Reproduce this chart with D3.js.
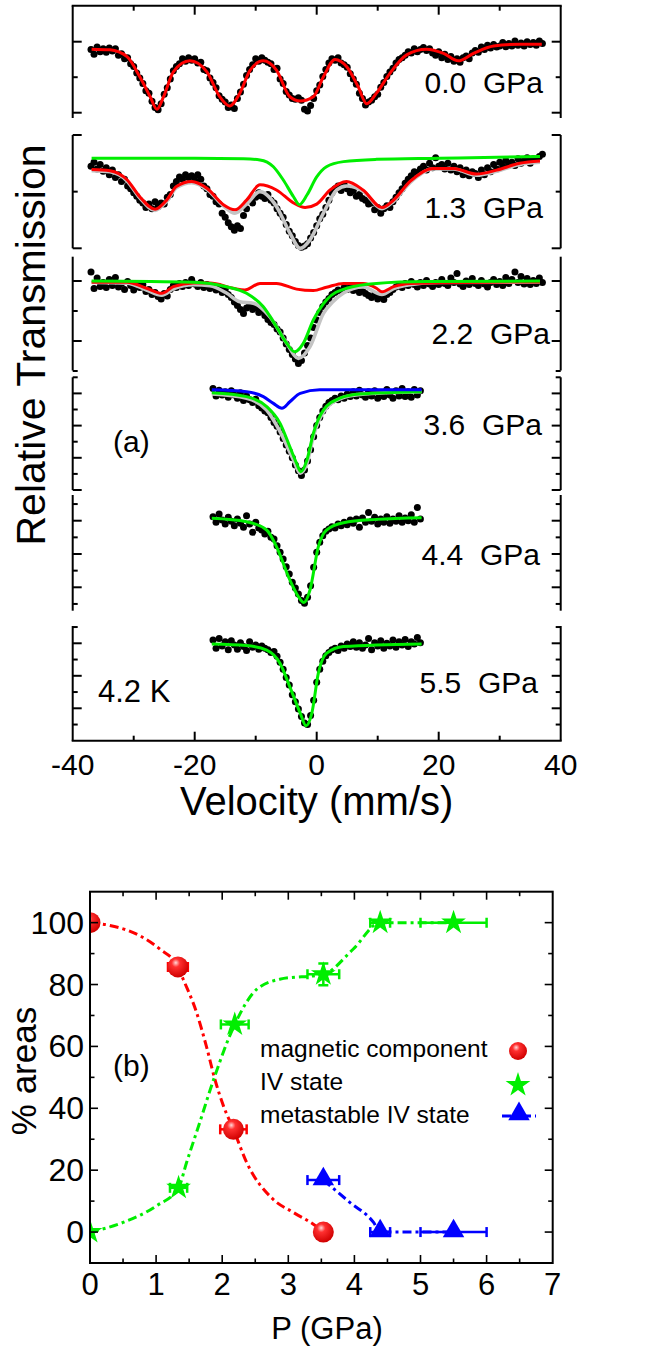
<!DOCTYPE html>
<html>
<head>
<meta charset="utf-8">
<script src="https://cdn.jsdelivr.net/npm/d3@7"></script>
<style>
  body { margin: 0; background: #fff; }
  svg { display: block; }
  text { font-family: "Liberation Sans", Arial, sans-serif; fill: #000; white-space: pre; }
</style>
</head>
<body>
<script>
// ---------- (a) Mossbauer spectra, relative transmission in % ----------
var velStep = 0.5;            // channel spacing (mm/s) of the plotted points
var wideStart = -37, narrowStart = -17;

var dots00 = [
  99.78, 99.65, 99.85, 99.72, 99.80, 99.70, 99.82, 99.74, 99.80, 99.62,
  99.66, 99.52, 99.55, 99.38, 99.30, 99.12, 98.98, 98.82, 98.62, 98.55,
  98.32, 98.15, 98.08, 98.25, 98.52, 98.70, 98.95, 99.18, 99.30, 99.38,
  99.52, 99.45, 99.55, 99.48, 99.52, 99.40, 99.42, 99.22, 99.18, 98.98,
  98.85, 98.70, 98.48, 98.38, 98.30, 98.15, 98.22, 98.12, 98.40, 98.58,
  98.80, 99.05, 99.22, 99.35, 99.52, 99.45, 99.55, 99.48, 99.42, 99.38,
  99.22, 99.25, 98.95, 98.82, 98.60, 98.50, 98.40, 98.38, 98.42, 98.35,
  98.10, 98.05, 98.20, 98.40, 98.62, 98.78, 99.02, 99.22, 99.40, 99.52,
  99.48, 99.55, 99.40, 99.35, 99.28, 99.10, 98.95, 98.80, 98.55, 98.40,
  98.22, 98.30, 98.35, 98.45, 98.52, 98.72, 98.85, 99.02, 99.15, 99.25,
  99.40, 99.50, 99.55, 99.62, 99.72, 99.68, 99.80, 99.72, 99.78, 99.84,
  99.75, 99.80, 99.68, 99.62, 99.72, 99.55, 99.65, 99.50, 99.58, 99.45,
  99.52, 99.42, 99.55, 99.60, 99.52, 99.68, 99.75, 99.70, 99.85, 99.78,
  99.90, 99.82, 99.92, 99.85, 99.88, 99.98, 99.86, 99.95, 99.88, 100.02,
  99.90, 99.96, 99.88, 100.00, 99.92, 99.98, 99.90, 100.02, 99.95
];
var dots13 = [
  99.45, 99.52, 99.40, 99.48, 99.36, 99.42, 99.30, 99.38, 99.25, 99.30,
  99.18, 99.22, 99.10, 99.05, 98.98, 98.92, 98.85, 98.80, 98.72, 98.78,
  98.70, 98.82, 98.74, 98.80, 98.78, 98.90, 98.95, 99.10, 99.18, 99.26,
  99.22, 99.30, 99.25, 99.28, 99.20, 99.30, 99.22, 99.10, 99.05, 98.95,
  98.92, 98.82, 98.78, 98.62, 98.55, 98.45, 98.38, 98.32, 98.40, 98.35,
  98.58, 98.70, 98.85, 98.80, 98.90, 98.98, 98.92, 98.88, 98.95, 98.85,
  98.80, 98.70, 98.62, 98.55, 98.42, 98.30, 98.22, 98.12, 98.05, 98.02,
  98.04, 98.08, 98.18, 98.28, 98.40, 98.52, 98.60, 98.72, 98.85, 98.98,
  99.05, 99.10, 99.02, 99.12, 99.05, 98.98, 99.02, 98.92, 98.95, 98.88,
  98.85, 98.78, 98.80, 98.68, 98.72, 98.62, 98.70, 98.75, 98.72, 98.82,
  98.90, 98.98, 99.05, 99.15, 99.22, 99.28, 99.35, 99.32, 99.40, 99.45,
  99.38, 99.50, 99.42, 99.60, 99.45, 99.48, 99.40, 99.50, 99.38, 99.45,
  99.35, 99.42, 99.30, 99.38, 99.28, 99.35, 99.32, 99.25, 99.38, 99.30,
  99.42, 99.35, 99.48, 99.40, 99.52, 99.45, 99.55, 99.48, 99.52, 99.46,
  99.58, 99.50, 99.55, 99.60, 99.50, 99.58, 99.55, 99.62, 99.66
];
var dots22 = [
  100.30, 99.75, 100.10, 99.82, 99.95, 99.78, 100.05, 99.85, 100.12, 99.80,
  99.92, 99.72, 99.98, 99.85, 99.70, 99.90, 99.78, 99.88, 99.65, 99.72,
  99.55, 99.62, 99.48, 99.40, 99.58, 99.50, 99.72, 99.85, 99.78, 99.92,
  99.82, 99.95, 99.85, 100.05, 99.90, 99.82, 99.95, 99.78, 99.88, 99.75,
  99.85, 99.70, 99.80, 99.62, 99.72, 99.55, 99.45, 99.30, 99.18, 99.05,
  98.92, 99.10, 99.20, 99.05, 99.12, 98.95, 99.02, 98.85, 98.72, 98.62,
  98.55, 98.40, 98.30, 98.10, 97.90, 97.72, 97.55, 97.40, 97.25, 97.35,
  97.60, 97.85, 98.10, 98.45, 98.70, 98.95, 99.15, 99.30, 99.42, 99.55,
  99.62, 99.70, 99.65, 99.78, 99.72, 99.80, 99.68, 99.75, 99.62, 99.70,
  99.58, 99.52, 99.45, 99.55, 99.40, 99.48, 99.38, 99.55, 99.62, 99.72,
  99.80, 99.88, 99.78, 99.92, 99.85, 99.98, 99.88, 99.80, 99.95, 99.85,
  100.02, 99.90, 99.82, 99.95, 99.88, 100.05, 99.92, 99.85, 100.10, 99.95,
  100.25, 99.90, 99.82, 100.00, 99.88, 100.08, 99.92, 99.85, 100.02, 99.90,
  99.80, 99.95, 100.05, 99.88, 99.98, 99.85, 100.12, 99.92, 100.05, 100.30,
  99.95, 100.15, 99.90, 100.08, 99.88, 100.02, 99.92, 100.10, 99.95
];
var dots36 = [
  100.15, 99.92, 100.10, 99.95, 100.05, 99.88, 100.08, 99.95, 99.85, 100.02,
  99.78, 99.92, 99.80, 99.72, 99.82, 99.62, 99.55, 99.45, 99.40, 99.25,
  99.10, 98.98, 98.80, 98.60, 98.40, 98.20, 98.00, 97.78, 97.60, 97.45,
  97.62, 97.90, 98.25, 98.65, 99.00, 99.25, 99.45, 99.60, 99.72, 99.78,
  99.85, 99.80, 99.92, 99.85, 99.98, 99.90, 100.05, 99.92, 100.10, 99.95,
  99.88, 100.05, 99.92, 100.08, 99.85, 100.02, 99.90, 100.12, 99.95, 99.85,
  100.08, 99.92, 100.15, 99.90, 100.05, 99.88, 100.12, 99.95, 100.08
];
var dots44 = [
  100.12, 99.95, 100.20, 100.02, 99.90, 100.10, 99.98, 99.85, 100.05, 99.92,
  99.80, 100.15, 99.90, 99.65, 99.95, 99.78, 99.72, 99.60, 99.68, 99.50,
  99.45, 99.25, 99.05, 98.85, 98.62, 98.40, 98.15, 97.98, 97.80, 97.60,
  97.52, 97.70, 98.05, 98.60, 99.05, 99.35, 99.55, 99.68, 99.75, 99.82,
  99.78, 99.90, 99.85, 99.95, 99.88, 100.02, 99.92, 100.05, 99.80, 100.08,
  99.95, 100.25, 99.98, 100.10, 99.90, 100.05, 99.95, 100.12, 99.92, 100.05,
  99.98, 100.15, 99.95, 100.08, 100.00, 100.18, 99.95, 100.40, 100.05
];
var dots55 = [
  100.10, 99.85, 100.15, 99.92, 100.05, 99.80, 100.08, 99.95, 99.82, 100.02,
  99.90, 99.78, 100.05, 99.88, 99.95, 99.82, 99.92, 99.85, 99.80, 99.72,
  99.75, 99.60, 99.42, 99.20, 98.95, 98.72, 98.42, 98.20, 97.98, 97.75,
  97.55, 97.50, 97.78, 98.25, 98.80, 99.20, 99.45, 99.62, 99.72, 99.80,
  99.85, 99.78, 99.92, 99.85, 99.98, 99.90, 100.05, 99.88, 100.02, 99.85,
  99.95, 100.15, 99.80, 100.02, 99.92, 100.08, 99.85, 100.00, 99.92, 100.10,
  99.88, 100.05, 99.95, 100.12, 99.90, 100.05, 99.98, 100.18, 100.02
];

// fitted components (velocity, transmission)
var fit00RedV = [-36.9,-33.9,-31.1,-29.0,-27.3,-26.2,-25.1,-23.5,-20.8,-18.0,-15.9,-14.3,-12.6,-10.9,-8.75,-6.6,-4.4,-2.7,-0.55,1.1,3.0,4.9,6.8,8.2,9.8,12.0,14.75,18.0,20.8,23.2,25.7,29.0,33.3,36.9];
var fit00RedT = [99.79,99.77,99.58,99.01,98.45,98.10,98.45,99.15,99.46,99.15,98.45,98.19,98.55,99.20,99.46,99.20,98.45,98.33,98.45,99.01,99.50,99.30,98.73,98.25,98.55,99.11,99.63,99.79,99.67,99.46,99.67,99.88,99.93,99.93];

var fit13GreenV = [-36.9,-20,-12,-9.3,-7.1,-5.5,-3.8,-2.85,-1.6,0,1.6,4.4,9.8,20,36.6];
var fit13GreenT = [99.59,99.59,99.58,99.56,99.44,99.21,98.91,98.77,98.94,99.26,99.44,99.53,99.57,99.59,99.62];
var fit13RedV = [-36.9,-33.9,-31.1,-29.0,-26.5,-24.6,-23.0,-20.5,-18.0,-15.3,-13.4,-11.5,-9.3,-6.6,-3.8,-1.9,0,2.2,4.9,7.6,10.7,12.6,15.3,19.1,22.4,26.2,29.5,33.3,36.6];
var fit13RedT = [99.39,99.37,99.21,98.91,98.69,98.85,99.09,99.18,99.06,98.77,98.68,98.85,99.12,99.03,98.80,98.72,98.78,99.03,99.18,99.03,98.72,98.85,99.18,99.41,99.41,99.31,99.38,99.50,99.54];
var fit13SumV = [-36.9,-33.9,-31.1,-29.0,-26.5,-24.6,-23.0,-20.5,-18.0,-15.3,-13.4,-11.5,-9.3,-6.6,-4.4,-2.7,-1.1,1.1,3.3,4.9,7.6,10.7,12.6,15.3,19.1,22.4,26.2,29.5,33.3,36.6];
var fit13SumT = [99.37,99.35,99.19,98.89,98.67,98.83,99.07,99.16,99.04,98.75,98.62,98.78,99.00,98.74,98.27,98.00,98.15,98.62,99.03,99.10,99.01,98.70,98.83,99.16,99.40,99.40,99.29,99.36,99.48,99.52];

var fit22GreenV = [-36.9,-20.2,-14.8,-11.5,-8.75,-6.6,-4.9,-3.6,-2.2,-0.55,1.6,4.9,9.8,18,36.6];
var fit22GreenT = [100,99.96,99.81,99.59,99.14,98.48,97.92,97.64,97.92,98.70,99.37,99.76,99.92,99.98,100];
var fit22RedV = [-36.9,-31.1,-27.9,-25.4,-23.5,-20.2,-17.5,-13.7,-11.8,-9.3,-6.6,-3.3,-0.55,1.6,4.4,7.6,9.8,10.7,12.6,15.3,36.6];
var fit22RedT = [99.96,99.96,99.76,99.59,99.81,99.93,99.93,99.76,99.70,99.92,99.92,99.73,99.68,99.79,99.92,99.92,99.76,99.64,99.81,99.92,99.97];
var fit22SumV = [-36.9,-31.1,-27.9,-25.4,-23.5,-20.2,-17.5,-14.8,-12.6,-10.4,-7.7,-4.9,-3.0,-1.1,1.1,2.6,4.4,7.6,10.7,12.6,15.3,20,36.6];
var fit22SumT = [99.95,99.93,99.70,99.53,99.74,99.88,99.84,99.60,99.31,99.26,98.81,97.92,97.42,97.81,98.92,99.30,99.60,99.80,99.55,99.75,99.88,99.95,99.97];

var fit36BlueV = [-17.2,-11.5,-8.75,-7.1,-5.7,-4.4,-2.7,0.5,17.2];
var fit36BlueT = [100.11,100.05,99.90,99.69,99.54,99.74,100.0,100.11,100.11];
var fit36GreenV = [-17.2,-11.5,-8.2,-6.0,-4.4,-3.3,-2.6,-1.6,-0.55,1.1,3.8,7.1,17.2];
var fit36GreenT = [100.02,99.90,99.59,99.07,98.34,97.83,97.57,97.93,98.76,99.48,99.85,99.98,100.05];
var fit36SumV = [-17.2,-11.5,-8.2,-6.0,-3.8,-2.7,-1.6,-0.5,1.1,3.8,7.1,17.2];
var fit36SumT = [99.98,99.85,99.48,98.81,97.93,97.52,97.83,98.70,99.42,99.83,99.97,100.05];

var fit44GreenV = [-17.2,-11.5,-8.2,-6.6,-4.4,-3.0,-2.1,-1.1,0.27,1.6,4.4,9.8,17.2];
var fit44GreenT = [100.07,99.97,99.72,99.22,98.22,97.72,97.54,97.92,99.22,99.72,99.94,100.04,100.09];

var fit55GreenV = [-17.2,-11.5,-8.2,-6.0,-4.4,-2.7,-1.75,-0.8,0.27,1.6,4.4,17.2];
var fit55GreenT = [99.98,99.93,99.79,99.38,98.66,97.85,97.46,97.85,99.08,99.69,99.90,99.98];

var pressureLabels = ["0.0  GPa", "1.3  GPa", "2.2  GPa", "3.6  GPa", "4.4  GPa", "5.5  GPa"];
var velTickLabels = [-40, -20, 0, 20, 40];

// ---------- (b) areas vs pressure ----------
var pMag = [0, 1.33, 2.17, 3.53];
var aMag = [100, 85.7, 33.2, 0];
var pMagErr = [0, 0.15, 0.2, 0];

var pIV = [0, 1.34, 2.19, 3.53, 4.39, 5.5];
var aIV = [0, 14.3, 67.1, 83.3, 100, 100];
var pIVErr = [0, 0.13, 0.21, 0.24, 0.15, 0.5];
var aIVErr = [0, 0, 0, 3.5, 0, 0];

var pMeta = [3.53, 4.39, 5.5];
var aMeta = [16.8, 0, 0];
var pMetaErr = [0.24, 0.15, 0.5];

// guide curves as drawn through the points
var magGuideP = [0, 0.30, 0.76, 1.06, 1.33, 1.41, 1.61, 1.76, 1.89, 2.02, 2.17, 2.37, 2.77, 3.08, 3.42, 3.53];
var magGuideA = [100, 99.1, 95.7, 91.4, 85.7, 81.7, 71.1, 60.1, 49.3, 40.7, 33.2, 22.5, 10.6, 6.3, 1.9, 0];
var ivGuideP = [0, 0.5, 1.0, 1.34, 1.46, 1.66, 1.87, 2.19, 2.52, 2.87, 3.53, 3.98, 4.39, 5.5];
var ivGuideA = [0, 3.1, 8.4, 14.3, 22.4, 35.4, 49.3, 67.1, 78.4, 81.7, 83.3, 91.4, 100, 100];
var metaGuideP = [3.53, 3.93, 4.29, 4.39, 5.5];
var metaGuideA = [16.8, 9.6, 3.1, 0, 0];

var legendLabels = ["magnetic component", "IV state", "metastable IV state"];

// ---------- colours ----------
var RED = "#ff0000", GREEN = "#00ee00", BLUE = "#0000ff", GRAY = "#c4c4c4";

var svg = d3.select("body").append("svg")
    .attr("width", 659)
    .attr("height", 1349);

// ================= top figure =================
var x = d3.scaleLinear().domain([-40, 40]).range([72.7, 560.7]);

var panels = [
  { top: 5.7, bottom: 118, domain: [97.851, 101.014], ticks: [98, 99, 100], start: wideStart, dots: dots00,
    curves: [[fit00RedV, fit00RedT, RED]], labelX: 543, labelY: 93 },
  { top: 135, bottom: 248.3, domain: [98.0, 100.0], ticks: [98, 99, 100], start: wideStart, dots: dots13,
    curves: [[fit13SumV, fit13SumT, GRAY], [fit13RedV, fit13RedT, RED], [fit13GreenV, fit13GreenT, GREEN]], labelX: 543, labelY: 218 },
  { top: 256.7, bottom: 370.5, domain: [97.017, 100.81], ticks: [97, 98, 99, 100], start: wideStart, dots: dots22,
    curves: [[fit22SumV, fit22SumT, GRAY], [fit22RedV, fit22RedT, RED], [fit22GreenV, fit22GreenT, GREEN]], labelX: 550, labelY: 344 },
  { top: 377.3, bottom: 490, domain: [97.0, 100.5], ticks: d3.range(97, 100.51, 0.5), start: narrowStart, dots: dots36,
    curves: [[fit36SumV, fit36SumT, GRAY], [fit36GreenV, fit36GreenT, GREEN], [fit36BlueV, fit36BlueT, BLUE]], labelX: 542, labelY: 435 },
  { top: 495, bottom: 610.7, domain: [97.297, 100.772], ticks: d3.range(97.5, 100.51, 0.5), start: narrowStart, dots: dots44,
    curves: [[fit44GreenV, fit44GreenT, GREEN]], labelX: 540, labelY: 565 },
  { top: 626, bottom: 740.7, domain: [97.003, 100.532], ticks: d3.range(97.5, 100.51, 0.5), start: narrowStart, dots: dots55,
    curves: [[fit55GreenV, fit55GreenT, GREEN]], labelX: 538, labelY: 693 }
];

var xL = x.range()[0], xR = x.range()[1];

panels.forEach(function(p, pi) {
  var y = d3.scaleLinear().domain(p.domain).range([p.bottom, p.top]);
  var g = svg.append("g");

  // data points
  g.selectAll("circle")
      .data(p.dots)
    .enter().append("circle")
      .attr("cx", function(d, i) { return x(p.start + i * velStep); })
      .attr("cy", function(d) { return y(d); })
      .attr("r", 3.5)
      .attr("fill", "#000");

  // fit curves
  var line = d3.line()
      .x(function(d) { return x(d[0]); })
      .y(function(d) { return y(d[1]); })
      .curve(d3.curveMonotoneX);
  p.curves.forEach(function(c) {
    g.append("path")
        .datum(d3.zip(c[0], c[1]))
        .attr("d", line)
        .attr("fill", "none")
        .attr("stroke", c[2])
        .attr("stroke-width", c[2] === GRAY ? 3.6 : 3);
  });

  // frame sides
  [xL, xR].forEach(function(xx) {
    g.append("line").attr("x1", xx).attr("x2", xx).attr("y1", p.top).attr("y2", p.bottom)
        .attr("stroke", "#000").attr("stroke-width", 2);
  });
  p.ticks.forEach(function(v) {
    var major = Math.abs(Math.round(v) - v) < 1e-6 && (pi > 2 || Math.round(100 - v) % 2 === 0);
    var len = major ? 9 : 5;
    g.append("line").attr("x1", xL).attr("x2", xL + len).attr("y1", y(v)).attr("y2", y(v))
        .attr("stroke", "#000").attr("stroke-width", 2);
    g.append("line").attr("x1", xR).attr("x2", xR - len).attr("y1", y(v)).attr("y2", y(v))
        .attr("stroke", "#000").attr("stroke-width", 2);
  });

  g.append("text")
      .attr("x", p.labelX)
      .attr("y", p.labelY)
      .attr("text-anchor", "end")
      .style("font-size", "30px")
      .text(pressureLabels[pi]);
});

// top and bottom x edges with ticks
var topY = panels[0].top, botY = panels[5].bottom;
svg.append("line").attr("x1", xL - 1).attr("x2", xR + 1).attr("y1", topY).attr("y2", topY)
    .attr("stroke", "#000").attr("stroke-width", 2);
svg.append("line").attr("x1", xL - 1).attr("x2", xR + 1).attr("y1", botY).attr("y2", botY)
    .attr("stroke", "#000").attr("stroke-width", 2);
d3.range(-30, 31, 10).forEach(function(v) {
  var len = (v % 20 === 0) ? 9 : 5;
  svg.append("line").attr("x1", x(v)).attr("x2", x(v)).attr("y1", topY).attr("y2", topY + len)
      .attr("stroke", "#000").attr("stroke-width", 2);
  svg.append("line").attr("x1", x(v)).attr("x2", x(v)).attr("y1", botY).attr("y2", botY - len)
      .attr("stroke", "#000").attr("stroke-width", 2);
});

svg.selectAll(".vtick")
    .data(velTickLabels)
  .enter().append("text")
    .attr("class", "vtick")
    .attr("x", function(d) { return x(d); })
    .attr("y", 775)
    .attr("text-anchor", "middle")
    .style("font-size", "30px")
    .text(function(d) { return d; });

svg.append("text")
    .attr("x", x(0))
    .attr("y", 815)
    .attr("text-anchor", "middle")
    .style("font-size", "40px")
    .text("Velocity (mm/s)");

svg.append("text")
    .attr("transform", "translate(45,345) rotate(-90)")
    .attr("text-anchor", "middle")
    .style("font-size", "41px")
    .text("Relative Transmission");

svg.append("text").attr("x", 113).attr("y", 452).style("font-size", "30px").text("(a)");
svg.append("text").attr("x", 98).attr("y", 702).style("font-size", "31px").text("4.2 K");

// ================= bottom figure =================
var px = d3.scaleLinear().domain([0, 7]).range([90, 552.7]);
var py = d3.scaleLinear().domain([-10, 110]).range([1263, 891.7]);

var defs = svg.append("defs");
var grad = defs.append("radialGradient").attr("id", "sphere")
    .attr("cx", "0.4").attr("cy", "0.35").attr("r", "0.65").attr("fx", "0.4").attr("fy", "0.3");
grad.append("stop").attr("offset", "0").attr("stop-color", "#ffd8d8");
grad.append("stop").attr("offset", "0.3").attr("stop-color", "#ff3030");
grad.append("stop").attr("offset", "1").attr("stop-color", "#d00000");
defs.append("clipPath").attr("id", "plotclip")
  .append("rect")
    .attr("x", px(0)).attr("y", py(110))
    .attr("width", px(7) - px(0)).attr("height", py(-10) - py(110));

var plot = svg.append("g").attr("clip-path", "url(#plotclip)");

var guide = d3.line()
    .x(function(d) { return px(d[0]); })
    .y(function(d) { return py(d[1]); })
    .curve(d3.curveMonotoneX);

[[magGuideP, magGuideA, RED], [ivGuideP, ivGuideA, GREEN], [metaGuideP, metaGuideA, BLUE]].forEach(function(s) {
  plot.append("path")
      .datum(d3.zip(s[0], s[1]))
      .attr("d", guide)
      .attr("fill", "none")
      .attr("stroke", s[2])
      .attr("stroke-width", 3)
      .attr("stroke-dasharray", "9,4,3,4");
});

function errorBars(ps, as, pe, ae, color) {
  ps.forEach(function(p, i) {
    if (pe[i] > 0) {
      plot.append("line").attr("x1", px(p - pe[i])).attr("x2", px(p + pe[i]))
          .attr("y1", py(as[i])).attr("y2", py(as[i]))
          .attr("stroke", color).attr("stroke-width", 2.5);
      [p - pe[i], p + pe[i]].forEach(function(e) {
        plot.append("line").attr("x1", px(e)).attr("x2", px(e))
            .attr("y1", py(as[i]) - 5).attr("y2", py(as[i]) + 5)
            .attr("stroke", color).attr("stroke-width", 2.5);
      });
    }
    if (ae && ae[i] > 0) {
      plot.append("line").attr("x1", px(p)).attr("x2", px(p))
          .attr("y1", py(as[i] - ae[i])).attr("y2", py(as[i] + ae[i]))
          .attr("stroke", color).attr("stroke-width", 2.5);
      [as[i] - ae[i], as[i] + ae[i]].forEach(function(e) {
        plot.append("line").attr("x1", px(p) - 5).attr("x2", px(p) + 5)
            .attr("y1", py(e)).attr("y2", py(e))
            .attr("stroke", color).attr("stroke-width", 2.5);
      });
    }
  });
}
errorBars(pMag, aMag, pMagErr, null, RED);
errorBars(pIV, aIV, pIVErr, aIVErr, GREEN);
errorBars(pMeta, aMeta, pMetaErr, null, BLUE);

var star = d3.symbol().type(d3.symbolStar).size(190);
var tri = d3.symbol().type(d3.symbolTriangle).size(200);

plot.selectAll(".mag")
    .data(d3.zip(pMag, aMag))
  .enter().append("circle")
    .attr("class", "mag")
    .attr("cx", function(d) { return px(d[0]); })
    .attr("cy", function(d) { return py(d[1]); })
    .attr("r", 10.5)
    .attr("fill", "url(#sphere)");

plot.selectAll(".iv")
    .data(d3.zip(pIV, aIV))
  .enter().append("path")
    .attr("class", "iv")
    .attr("d", star)
    .attr("transform", function(d) { return "translate(" + px(d[0]) + "," + py(d[1]) + ")"; })
    .attr("fill", GREEN);

plot.selectAll(".meta")
    .data(d3.zip(pMeta, aMeta))
  .enter().append("path")
    .attr("class", "meta")
    .attr("d", tri)
    .attr("transform", function(d) { return "translate(" + px(d[0]) + "," + (py(d[1]) - 1) + ")"; })
    .attr("fill", BLUE);

// frame and ticks
svg.append("rect")
    .attr("x", px(0)).attr("y", py(110))
    .attr("width", px(7) - px(0)).attr("height", py(-10) - py(110))
    .attr("fill", "none").attr("stroke", "#000").attr("stroke-width", 2);

d3.range(0.5, 7, 0.5).forEach(function(v) {
  var len = (v % 1 === 0) ? 8 : 4.5;
  svg.append("line").attr("x1", px(v)).attr("x2", px(v)).attr("y1", py(-10)).attr("y2", py(-10) - len)
      .attr("stroke", "#000").attr("stroke-width", 1.6);
  svg.append("line").attr("x1", px(v)).attr("x2", px(v)).attr("y1", py(110)).attr("y2", py(110) + len)
      .attr("stroke", "#000").attr("stroke-width", 1.6);
});
d3.range(0, 101, 10).forEach(function(v) {
  var len = (v % 20 === 0) ? 8 : 4.5;
  svg.append("line").attr("x1", px(0)).attr("x2", px(0) + len).attr("y1", py(v)).attr("y2", py(v))
      .attr("stroke", "#000").attr("stroke-width", 1.6);
  svg.append("line").attr("x1", px(7)).attr("x2", px(7) - len).attr("y1", py(v)).attr("y2", py(v))
      .attr("stroke", "#000").attr("stroke-width", 1.6);
});

svg.selectAll(".ptick")
    .data(d3.range(0, 8))
  .enter().append("text")
    .attr("class", "ptick")
    .attr("x", function(d) { return px(d); })
    .attr("y", 1295)
    .attr("text-anchor", "middle")
    .style("font-size", "31px")
    .text(function(d) { return d; });

svg.selectAll(".atick")
    .data(d3.range(0, 101, 20))
  .enter().append("text")
    .attr("class", "atick")
    .attr("x", 84)
    .attr("y", function(d) { return py(d) + 11; })
    .attr("text-anchor", "end")
    .style("font-size", "32px")
    .text(function(d) { return d; });

svg.append("text")
    .attr("x", 327)
    .attr("y", 1339)
    .attr("text-anchor", "middle")
    .style("font-size", "31px")
    .text("P (GPa)");

svg.append("text")
    .attr("transform", "translate(36,1071) rotate(-90)")
    .attr("text-anchor", "middle")
    .style("font-size", "35px")
    .text("% areas");

svg.append("text").attr("x", 113).attr("y", 1076).style("font-size", "30px").text("(b)");

// legend
var legY = [1057, 1090, 1123];
svg.selectAll(".leg")
    .data(legendLabels)
  .enter().append("text")
    .attr("class", "leg")
    .attr("x", 260)
    .attr("y", function(d, i) { return legY[i]; })
    .style("font-size", "24.5px")
    .text(function(d) { return d; });

svg.append("circle").attr("cx", 518).attr("cy", 1051).attr("r", 9).attr("fill", "url(#sphere)");
svg.append("path").attr("d", star).attr("transform", "translate(518,1085)").attr("fill", GREEN);
svg.append("line").attr("x1", 502).attr("x2", 536).attr("y1", 1116).attr("y2", 1116)
    .attr("stroke", BLUE).attr("stroke-width", 3).attr("stroke-dasharray", "9,4,3,4");
svg.append("path").attr("d", tri).attr("transform", "translate(519,1114)").attr("fill", BLUE);
</script>
</body>
</html>
